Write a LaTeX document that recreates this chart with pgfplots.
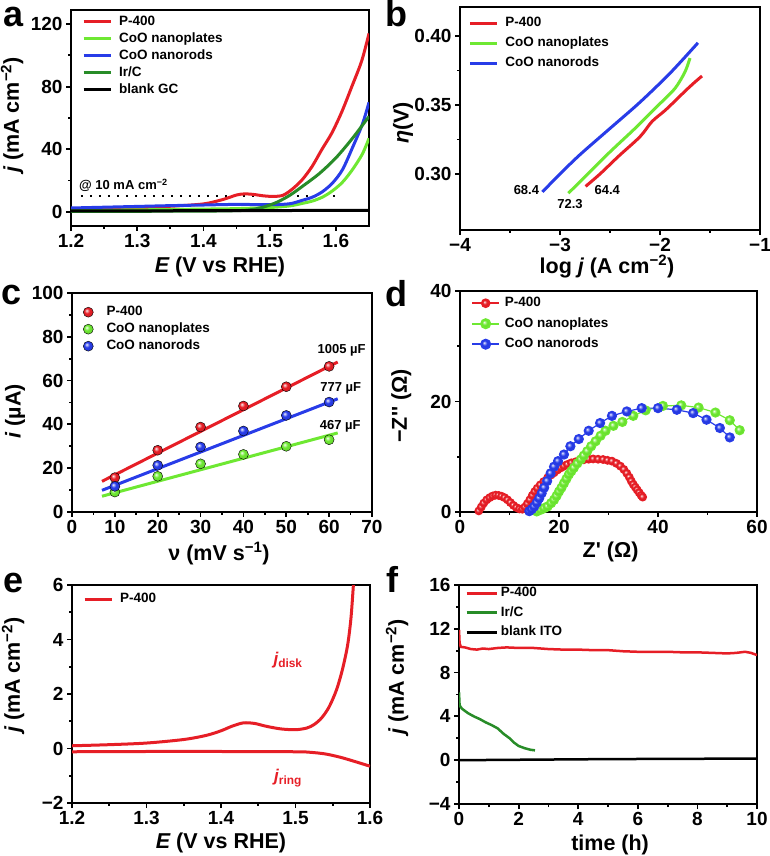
\documentclass[border=0pt]{standalone}
\usepackage{pgfplots}
\pgfplotsset{compat=1.18}
\usepackage{fontspec}
\setmainfont{Liberation Sans}
\definecolor{cred}{RGB}{230,30,38}
\definecolor{clime}{RGB}{110,232,50}
\definecolor{cblue}{RGB}{40,60,232}
\definecolor{cdgreen}{RGB}{40,140,40}
\makeatletter
\pgfdeclareradialshading[tikz@ball]{ball}{\pgfqpoint{-9bp}{9bp}}{%
 color(0bp)=(tikz@ball!5!white); color(5bp)=(tikz@ball!45!white);
 color(13bp)=(tikz@ball); color(30bp)=(tikz@ball!90!black); color(50bp)=(tikz@ball!65!black)}
\makeatother
\newcommand{\tickfont}{\fontsize{19}{19}\selectfont\bfseries}
\newcommand{\labfont}{\fontsize{21.5}{22}\selectfont\bfseries}
\newcommand{\legfont}{\fontsize{13.5}{14}\selectfont\bfseries}
\newcommand{\annfont}{\fontsize{13}{14}\selectfont\bfseries}
\newcommand{\panfont}{\fontsize{36}{36}\selectfont\bfseries}
\pgfplotsset{
  panel/.style={
    scale only axis,
    axis line style={line width=2.5pt},
    every tick/.style={line width=1.8pt, black},
    tick align=outside,
    xtick pos=left, ytick pos=left,
    major tick length=5pt,
    minor tick length=3pt,
    minor tick num=1,
    /pgf/number format/assume math mode=true,
    tick label style={font=\tickfont},
    xlabel style={font=\labfont, anchor=center},
    ylabel style={font=\labfont, anchor=center},
    legend cell align=left,
    legend style={draw=none, fill=none, font=\legfont, inner sep=0pt,
      nodes={inner sep=0pt, text height=10pt, text depth=3pt}},
  },
  linelegend/.style={legend image code/.code={
      \draw[##1, line width=3pt] (0pt,0pt) -- (27pt,0pt);
      \path (34pt,0pt);}},
}
\begin{document}
\begin{tikzpicture}
\path[use as bounding box] (0,0) rectangle (770pt,856pt);

% ---------------- panel a ----------------
\begin{axis}[panel, at={(71pt,630pt)}, anchor=south west, width=298pt, height=216pt,
  xmin=1.2, xmax=1.65, ymin=-9, ymax=129,
  xtick={1.2,1.3,1.4,1.5,1.6}, xticklabels={1.2,1.3,1.4,1.5,1.6},
  ytick={0,40,80,120}, yticklabels={0,40,80,120},
  xlabel={{\itshape E} (V vs RHE)}, ylabel={{\itshape j} (mA cm\textsuperscript{−2})},
  xlabel style={at={(axis description cs:0.5,-0.19)}},
  ylabel style={at={(axis description cs:-0.198,0.514)}},
  linelegend,
  legend style={at={(axis description cs:0.037,0.976)}, anchor=north west, row sep=4pt},
]
\addplot[black, line width=2pt, dash pattern=on 2pt off 7pt, forget plot] coordinates {(1.215,10) (1.6,10)};
\addplot[cred, line width=3pt, smooth] coordinates {(1.20,1.5)(1.25,2.0)(1.30,2.7)(1.35,3.6)(1.40,5.1)(1.43,8.0)(1.45,10.8)(1.462,11.5)(1.475,11.2)(1.49,10.3)(1.505,9.9)(1.52,10.6)(1.534,14.5)(1.549,20.5)(1.564,29)(1.579,40)(1.594,50.5)(1.609,64)(1.624,80)(1.639,96.5)(1.65,114)};
\addlegendentry{P-400}
\addplot[clime, line width=3pt, smooth] coordinates {(1.20,1.0)(1.30,1.3)(1.40,1.8)(1.45,2.1)(1.50,2.8)(1.53,3.8)(1.55,5.5)(1.565,7.0)(1.58,9.5)(1.595,13.5)(1.61,19)(1.625,27)(1.64,37)(1.65,47)};
\addlegendentry{CoO nanoplates}
\addplot[cblue, line width=3pt, smooth] coordinates {(1.20,2.5)(1.25,3.0)(1.30,3.5)(1.35,4.0)(1.40,4.4)(1.45,4.8)(1.50,4.6)(1.53,5.2)(1.55,7.5)(1.565,9.5)(1.58,13)(1.595,18.5)(1.61,27)(1.625,41)(1.64,56)(1.65,70)};
\addlegendentry{CoO nanorods}
\addplot[cdgreen, line width=3pt, smooth] coordinates {(1.20,0.3)(1.30,0.4)(1.40,0.5)(1.45,0.8)(1.47,1.3)(1.49,3.0)(1.51,6.0)(1.53,10.5)(1.55,16.5)(1.575,24.5)(1.60,34.5)(1.625,47)(1.65,61)};
\addlegendentry{Ir/C}
\addplot[black, line width=3pt] coordinates {(1.20,0.6)(1.65,1.0)};
\addlegendentry{blank GC}
\node[anchor=base west, font=\annfont, inner sep=0pt] at (axis cs:1.212,14) {@ 10 mA cm\textsuperscript{−2}};
\end{axis}

% ---------------- panel b ----------------
\begin{axis}[panel, at={(460pt,626pt)}, anchor=south west, width=300pt, height=223pt,
  xmin=-4, xmax=-1, ymin=0.2594, ymax=0.421,
  xtick={-4,-3,-2,-1}, xticklabels={−4,−3,−2,−1},
  ytick={0.30,0.35,0.40}, yticklabels={0.30,0.35,0.40},
  xlabel={log {\itshape j} (A cm\textsuperscript{−2})}, ylabel={{\itshape η}(V)},
  xlabel style={at={(axis description cs:0.49,-0.165)}},
  ylabel style={at={(axis description cs:-0.19,0.48)}},
  linelegend,
  legend style={at={(axis description cs:0.027,0.957)}, anchor=north west, row sep=7pt},
]
\addplot[cred, line width=3pt, smooth] coordinates {(-2.744,0.291)(-2.6,0.300)(-2.412,0.313)(-2.2,0.327)(-2.08,0.338)(-1.95,0.346)(-1.82,0.355)(-1.75,0.360)(-1.66,0.366)(-1.58,0.371)};
\addlegendentry{P-400}
\addplot[clime, line width=3pt, smooth] coordinates {(-2.917,0.286)(-2.75,0.298)(-2.5,0.316)(-2.25,0.333)(-2.0,0.351)(-1.85,0.362)(-1.75,0.374)(-1.70,0.384)};
\addlegendentry{CoO nanoplates}
\addplot[cblue, line width=3pt, smooth] coordinates {(-3.176,0.287)(-3.0,0.300)(-2.8,0.314)(-2.5,0.333)(-2.2,0.352)(-1.9,0.373)(-1.621,0.395)};
\addlegendentry{CoO nanorods}
\node[font=\annfont] at (axis cs:-3.336,0.2884) {68.4};
\node[font=\annfont] at (axis cs:-2.900,0.2783) {72.3};
\node[font=\annfont] at (axis cs:-2.528,0.2884) {64.4};
\end{axis}

% ---------------- panel c ----------------
\begin{axis}[panel, at={(72pt,344pt)}, anchor=south west, width=300pt, height=219pt,
  xmin=0, xmax=70, ymin=0, ymax=100,
  xtick={0,10,...,70}, xticklabels={0,10,20,30,40,50,60,70},
  ytick={0,20,...,100}, yticklabels={0,20,40,60,80,100},
  xlabel={ν (mV s\textsuperscript{−1})}, ylabel={{\itshape i} (µA)},
  xlabel style={at={(axis description cs:0.49,-0.19)}},
  ylabel style={at={(axis description cs:-0.19,0.46)}},
  legend image code/.code={\draw[#1] plot coordinates {(6pt,0pt)}; \path (0pt,0pt) (24pt,0pt);},
  legend style={at={(axis description cs:0.033,0.943)}, anchor=north west, row sep=4pt},
]
\addplot[only marks, mark=ball, mark size=5pt, mark options={ball color=cred}] coordinates {(10,15.7)(20,28.2)(30,38.8)(40,48.4)(50,57.2)(60,66.5)};
\addlegendentry{P-400}
\addplot[only marks, mark=ball, mark size=5pt, mark options={ball color=clime}] coordinates {(10,9.1)(20,16.3)(30,22.0)(40,26.3)(50,30.0)(60,33.0)};
\addlegendentry{CoO nanoplates}
\addplot[only marks, mark=ball, mark size=5pt, mark options={ball color=cblue}] coordinates {(10,11.7)(20,21.3)(30,29.7)(40,37.0)(50,44.1)(60,50.2)};
\addlegendentry{CoO nanorods}
\addplot[cred, line width=3pt, forget plot] coordinates {(7,14.0)(62,68.5)};
\addplot[clime, line width=3pt, forget plot] coordinates {(7,7.2)(62,36.1)};
\addplot[cblue, line width=3pt, forget plot] coordinates {(7,9.9)(62,51.7)};
\node[font=\annfont] at (axis cs:62.9,74.0) {1005 µF};
\node[font=\annfont] at (axis cs:62.7,56.3) {777 µF};
\node[font=\annfont] at (axis cs:62.6,39.3) {467 µF};
\end{axis}

% ---------------- panel d ----------------
\begin{axis}[panel, at={(460pt,344pt)}, anchor=south west, width=297pt, height=221pt,
  xmin=0, xmax=60, ymin=0, ymax=40,
  xtick={0,20,40,60}, xticklabels={0,20,40,60},
  ytick={0,20,40}, yticklabels={0,20,40},
  xlabel={Z\textquotesingle{} (Ω)}, ylabel={−Z\textquotesingle\textquotesingle{} (Ω)},
  xlabel style={at={(axis description cs:0.507,-0.18)}},
  ylabel style={at={(axis description cs:-0.198,0.48)}},
  legend image code/.code={\draw[mark repeat=2, mark phase=2, #1, line width=2pt] plot coordinates {(0pt,0pt)(13.5pt,0pt)(27pt,0pt)}; \path (32pt,0pt);},
  legend style={at={(axis description cs:0.037,0.975)}, anchor=north west, row sep=7.5pt},
]
\addplot[cred, line width=1.2pt, mark=ball, mark size=3.8pt, mark options={ball color=cred}] coordinates {(3.8,0.2)(4.3,0.9)(4.8,1.6)(5.4,2.2)(6.0,2.6)(6.6,2.9)(7.2,3.05)(7.8,3.0)(8.4,2.85)(9.0,2.6)(9.6,2.2)(10.2,1.7)(10.8,1.2)(11.4,0.8)(12.0,0.55)(12.6,0.5)(13.1,0.9)(13.6,1.5)(14.1,2.2)(14.6,3.0)(15.1,3.7)(15.6,4.3)(16.2,4.9)(16.9,5.5)(17.7,6.2)(18.4,6.7)(19.0,7.1)(19.7,7.6)(20.4,8.0)(21.0,8.3)(21.7,8.6)(22.5,8.9)(23.4,9.1)(24.2,9.3)(25.0,9.45)(26.0,9.55)(26.9,9.6)(27.9,9.55)(28.9,9.5)(29.8,9.35)(30.7,9.2)(31.6,8.8)(32.4,8.3)(33.1,7.7)(33.7,7.0)(34.2,6.3)(34.6,5.6)(35.0,5.0)(35.4,4.5)(35.8,4.0)(36.2,3.5)(36.6,3.0)(36.9,2.7)};
\addlegendentry{P-400}
\addplot[clime, line width=1.2pt, mark=ball, mark size=4.5pt, mark options={ball color=clime}] coordinates {(15.5,0.1)(16.3,0.4)(17.0,0.7)(17.7,1.0)(18.4,1.6)(19.0,2.2)(19.5,2.9)(20.0,3.7)(20.5,4.4)(21.0,5.2)(21.5,6.0)(22.0,6.8)(22.5,7.4)(23.0,8.0)(23.7,8.8)(24.4,9.5)(25.0,10.2)(25.7,11.0)(26.5,11.9)(27.4,12.8)(28.4,13.8)(29.4,14.7)(31.0,15.6)(32.8,16.3)(35.0,17.4)(37.5,18.4)(41.0,19.2)(44.7,19.3)(48.2,18.9)(51.6,18.0)(54.5,16.6)(56.5,14.8)};
\addlegendentry{CoO nanoplates}
\addplot[cblue, line width=1.2pt, mark=ball, mark size=4.5pt, mark options={ball color=cblue}] coordinates {(14.0,0.15)(14.5,0.5)(15.0,1.0)(15.5,1.7)(16.0,2.5)(16.5,3.4)(17.0,4.4)(17.6,5.6)(18.3,7.0)(19.0,8.2)(19.8,9.2)(21.0,10.4)(22.3,11.9)(24.0,13.2)(26.0,14.7)(28.3,16.1)(30.7,17.4)(33.7,18.2)(36.7,18.8)(40.0,18.8)(43.8,18.5)(47.1,17.9)(49.8,16.7)(52.5,15.2)(54.5,13.5)};
\addlegendentry{CoO nanorods}
\end{axis}

% ---------------- panel e ----------------
\begin{axis}[panel, at={(72pt,53pt)}, anchor=south west, width=298pt, height=218pt,
  xmin=1.2, xmax=1.6, ymin=-2, ymax=6,
  xtick={1.2,1.3,1.4,1.5,1.6}, xticklabels={1.2,1.3,1.4,1.5,1.6},
  ytick={-2,0,2,4,6}, yticklabels={−2,0,2,4,6},
  xlabel={{\itshape E} (V vs RHE)}, ylabel={{\itshape j} (mA cm\textsuperscript{−2})},
  xlabel style={at={(axis description cs:0.50,-0.182)}},
  ylabel style={at={(axis description cs:-0.198,0.587)}},
  linelegend,
  legend style={at={(axis description cs:0.037,0.966)}, anchor=north west},
]
\addplot[cred, line width=3pt, smooth] coordinates {(1.20,0.10)(1.25,0.14)(1.30,0.20)(1.35,0.33)(1.38,0.48)(1.40,0.65)(1.415,0.82)(1.43,0.94)(1.445,0.92)(1.46,0.82)(1.48,0.72)(1.50,0.69)(1.515,0.75)(1.525,0.88)(1.535,1.12)(1.545,1.52)(1.555,2.15)(1.563,2.9)(1.57,3.8)(1.5745,4.8)(1.5777,6.0)};
\addlegendentry{P-400}
\addplot[cred, line width=3pt, smooth, forget plot] coordinates {(1.20,-0.12)(1.30,-0.11)(1.40,-0.11)(1.50,-0.12)(1.52,-0.14)(1.54,-0.2)(1.56,-0.32)(1.58,-0.48)(1.60,-0.65)};
\node[font=\fontsize{17}{17}\selectfont\bfseries, text=cred] at (axis cs:1.490,3.25) {{\itshape j}\textsubscript{disk}};
\node[font=\fontsize{17}{17}\selectfont\bfseries, text=cred] at (axis cs:1.490,-1.09) {{\itshape j}\textsubscript{ring}};
\end{axis}

% ---------------- panel f ----------------
\begin{axis}[panel, at={(459pt,52pt)}, anchor=south west, width=298pt, height=219pt,
  xmin=0, xmax=10, ymin=-4, ymax=16,
  xtick={0,2,...,10}, xticklabels={0,2,4,6,8,10},
  ytick={-4,0,...,16}, yticklabels={−4,0,4,8,12,16},
  xlabel={time (h)}, ylabel={{\itshape j} (mA cm\textsuperscript{−2})},
  xlabel style={at={(axis description cs:0.507,-0.185)}},
  ylabel style={at={(axis description cs:-0.208,0.58)}},
  legend image code/.code={\draw[#1, line width=3pt] (0pt,0pt) -- (30pt,0pt); \path (33pt,0pt);},
  legend style={at={(axis description cs:0.02,0.993)}, anchor=north west, row sep=6.5pt},
]
\addplot[cred, line width=2.5pt] coordinates {(0,11.9)(0.02,10.7)(0.06,10.35)(0.2,10.3)(0.4,10.15)(0.6,10.1)(0.8,10.2)(1.0,10.15)(1.3,10.25)(1.6,10.3)(2.0,10.25)(2.5,10.25)(3.0,10.15)(3.5,10.1)(4.0,10.1)(4.5,10.05)(5.0,10.05)(5.5,9.95)(6.0,9.9)(6.5,9.9)(7.0,9.9)(7.5,9.85)(8.0,9.85)(8.5,9.8)(9.0,9.75)(9.3,9.8)(9.6,9.9)(9.8,9.8)(10,9.6)};
\addlegendentry{P-400}
\addplot[cdgreen, line width=2.5pt] coordinates {(0,6.2)(0.02,5.0)(0.1,4.7)(0.3,4.3)(0.5,4.0)(0.7,3.75)(0.9,3.45)(1.1,3.2)(1.3,2.9)(1.5,2.4)(1.7,2.0)(1.85,1.6)(2.0,1.3)(2.2,1.1)(2.4,0.95)(2.55,0.9)};
\addlegendentry{Ir/C}
\addplot[black, line width=2.5pt] coordinates {(0,0.0)(5,0.1)(10,0.15)};
\addlegendentry{blank ITO}
\end{axis}

% panel letters
\node[anchor=base west, inner sep=0pt, font=\panfont] at (3pt,829pt) {a};
\node[anchor=base west, inner sep=0pt, font=\panfont] at (385pt,829pt) {b};
\node[anchor=base west, inner sep=0pt, font=\panfont] at (1pt,551pt) {c};
\node[anchor=base west, inner sep=0pt, font=\panfont] at (385pt,549pt) {d};
\node[anchor=base west, inner sep=0pt, font=\panfont] at (3pt,263pt) {e};
\node[anchor=base west, inner sep=0pt, font=\panfont] at (386pt,263pt) {f};
\end{tikzpicture}
\end{document}
